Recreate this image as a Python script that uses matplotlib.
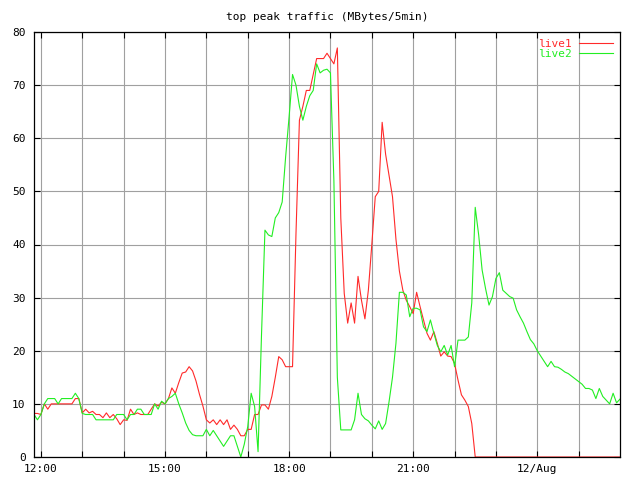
import numpy as np
import matplotlib
matplotlib.use('Agg')
import matplotlib.pyplot as plt

# 5-minute samples, first sample at 11:50 on 11/Aug, last at 02:00 on 12/Aug
START_HOUR = 11 + 50 / 60
STEP_HOURS = 5 / 60

live1 = [
    8.2, 8.2, 8, 10, 9, 10, 10, 10, 10, 10,
    10, 10, 11, 11, 8.3, 9, 8.3, 8.6, 8, 8,
    7.4, 8.3, 7.4, 8, 7.2, 6.1, 7, 6.9, 9, 8,
    8.3, 8, 8, 8, 9, 10, 9.6, 10.3, 10, 11,
    13, 12, 14, 15.8, 16, 17, 16.2, 14.3, 11.8, 9.6,
    7, 6.4, 7, 6.1, 7, 6.1, 7, 5.2, 6, 5.2,
    4, 4, 5.2, 5.2, 8, 8, 9.8, 9.8, 9, 11.4,
    15, 18.9, 18.3, 17, 17, 17, 42, 63.4, 66, 69,
    69, 72, 75, 75, 75, 76, 75, 74, 77, 45,
    30.8, 25.2, 29, 25.2, 34, 29.5, 26, 31.4, 40, 49,
    50, 63, 57, 53, 49, 41, 35, 31.4, 29.5, 28.3,
    27, 31, 28.3, 25.8, 23.3, 22, 23.6, 21.4, 19, 19.8,
    19, 18.9, 17.6, 14.5, 11.7, 10.7, 9.5, 6.3, 0, 0,
    0, 0, 0, 0, 0, 0, 0, 0, 0, 0,
    0, 0, 0, 0, 0, 0, 0, 0, 0, 0,
    0, 0, 0, 0, 0, 0, 0, 0, 0, 0,
    0, 0, 0, 0, 0, 0, 0, 0, 0, 0,
    0,
]

live2 = [
    8, 7, 8, 10, 11, 11, 11, 10, 11, 11,
    11, 11, 12, 11, 8.2, 8, 8, 8, 7, 7,
    7, 7, 7, 7, 8, 8, 8, 7, 8, 8,
    9, 9, 8, 8, 8, 10, 9, 10.5, 10, 11,
    11.4, 12, 10, 8.3, 6.4, 5, 4.2, 4, 4, 4,
    5.2, 4, 5, 4, 3, 2, 3, 4, 4, 2,
    0, 2.4, 5.7, 12, 9.5, 1, 23, 42.7, 41.8, 41.5,
    45, 46, 48, 56.5, 64, 72, 70, 66, 63.4, 66,
    68, 69, 74, 72.3, 72.8, 73, 72.3, 52, 15, 5.1,
    5.1, 5.1, 5.1, 7, 12, 8, 7.2, 6.8, 6, 5.3,
    6.8, 5.2, 6.3, 10.4, 15, 21.4, 31, 31, 30.5, 26.4,
    28, 28, 27.7, 24.5, 23.6, 25.8, 23.3, 21, 19.8, 21,
    19.2, 21, 17, 22, 22, 22, 22.6, 29, 47, 41.8,
    35.2, 31.7, 28.6, 30.2, 33.6, 34.7, 31.4, 30.8, 30.2, 29.9,
    27.7, 26.4, 25.2, 23.6, 22.1, 21.3, 20, 19, 18, 17,
    18, 17, 16.9, 16.5, 16, 15.7, 15.2, 14.7, 14.2, 13.7,
    12.9, 12.9, 12.6, 11, 12.9, 11.4, 10.7, 10, 12, 10.2,
    10.9,
]

hour_ticks = list(range(12, 26))
hour_labels = ['12:00', '', '', '15:00', '', '', '18:00', '', '',
               '21:00', '', '', '12/Aug', '']
y_ticks = [0, 10, 20, 30, 40, 50, 60, 70, 80]

hours = START_HOUR + STEP_HOURS * np.arange(len(live1))

plt.rcParams['font.family'] = 'DejaVu Sans Mono'
plt.rcParams['font.size'] = 8

fig = plt.figure(figsize=(6.4, 4.8), dpi=100)
ax = fig.add_axes([34 / 640, 1 - 457 / 480, 586 / 640, 425 / 480])

ax.plot(hours, live1, color='#ff2a2a', linewidth=0.8, label='live1')
ax.plot(hours, live2, color='#22ee22', linewidth=0.8, label='live2')

ax.set_xlim(START_HOUR, 26)
ax.set_ylim(0, 80)
ax.set_xticks(hour_ticks)
ax.set_xticklabels(hour_labels)
ax.set_yticks(y_ticks)

ax.grid(True, color='#a0a0a0', linewidth=0.8)
ax.set_axisbelow(True)
ax.tick_params(direction='in', length=4.5, width=0.8, color='black',
               top=True, right=True, labelsize=8)
ax.tick_params(axis='x', pad=5)
ax.tick_params(axis='y', pad=6)
for s in ax.spines.values():
    s.set_color('black')
    s.set_linewidth(0.9)

ax.set_title('top peak traffic (MBytes/5min)', fontsize=8, pad=9)

leg = ax.legend(loc='upper right', markerfirst=False, frameon=False,
                labelcolor='linecolor', handlelength=3.1, handletextpad=0.6,
                labelspacing=0.0, borderaxespad=0.4, borderpad=0.2)

fig.savefig('out.png', dpi=100)
